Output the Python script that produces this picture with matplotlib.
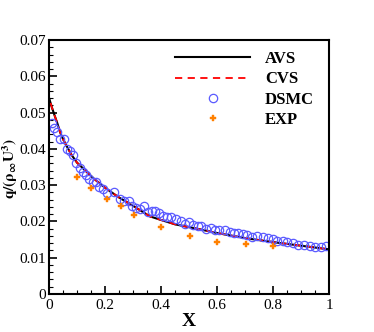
import matplotlib.pyplot as plt
from matplotlib.ticker import MultipleLocator, FuncFormatter

# AVS / CVS surface curves
x_line = [0, 0.01, 0.02, 0.03, 0.04, 0.05, 0.06, 0.08, 0.10, 0.13, 0.16, 0.20, 0.22,
          0.25, 0.30, 0.36, 0.40, 0.45, 0.54, 0.60, 0.70, 0.80, 0.90, 1.0, 1.0]
avs = [0.0541, 0.0515, 0.0492, 0.0470, 0.0445, 0.0427, 0.0412, 0.0384, 0.0362, 0.0340,
       0.0318, 0.0293, 0.0282, 0.0266, 0.0243, 0.0214, 0.0204, 0.0192, 0.0178, 0.0168,
       0.0154, 0.0143, 0.0133, 0.0123, 0.0]
x_cvs = [0] + x_line
cvs = [0.070] + avs

# DSMC
x_dsmc = [0.0095, 0.019, 0.029, 0.040, 0.055, 0.063, 0.075, 0.086, 0.095, 0.110, 0.121,
          0.132, 0.143, 0.156, 0.168, 0.179, 0.194, 0.208, 0.231, 0.255, 0.269, 0.286,
          0.295, 0.312, 0.325, 0.338, 0.352, 0.367, 0.379, 0.393, 0.406, 0.420, 0.437,
          0.452, 0.470, 0.487, 0.500, 0.514, 0.531, 0.544, 0.561, 0.577, 0.593, 0.608,
          0.629, 0.645, 0.660, 0.676, 0.693, 0.708, 0.726, 0.743, 0.763, 0.781, 0.799,
          0.815, 0.835, 0.851, 0.870, 0.889, 0.910, 0.930, 0.950, 0.970, 0.990]
q_dsmc = [0.0470, 0.0458, 0.0446, 0.0428, 0.0428, 0.0400, 0.0395, 0.0384, 0.0362, 0.0346,
          0.0335, 0.0327, 0.0316, 0.0310, 0.0308, 0.0296, 0.0290, 0.0277, 0.0280, 0.0262,
          0.0256, 0.0257, 0.0243, 0.0237, 0.0233, 0.0242, 0.0226, 0.0228, 0.0228, 0.0222,
          0.0215, 0.0211, 0.0211, 0.0207, 0.0202, 0.0194, 0.0198, 0.0190, 0.0188, 0.0188,
          0.0180, 0.0181, 0.0177, 0.0176, 0.0175, 0.0170, 0.0169, 0.0167, 0.0165, 0.0162,
          0.0157, 0.0161, 0.0157, 0.0154, 0.0152, 0.0147, 0.0145, 0.0142, 0.0141, 0.0135,
          0.0135, 0.0132, 0.0130, 0.0129, 0.0132]

# experiment
x_exp = [0.100, 0.150, 0.206, 0.256, 0.305, 0.401, 0.504, 0.601, 0.705, 0.799]
q_exp = [0.0322, 0.0292, 0.0263, 0.0242, 0.0217, 0.0185, 0.0159, 0.0142, 0.0139, 0.0131]

plt.rcParams['font.family'] = ['Liberation Serif', 'DejaVu Serif']
plt.rcParams['mathtext.fontset'] = 'stix'

fig = plt.figure(figsize=(3.74, 3.32), dpi=100)
ax = fig.add_axes([0.131, 0.1145, 0.749, 0.765])

ax.plot(x_line, avs, color='black', lw=1.5, label='AVS')
ax.plot(x_cvs, cvs, color='red', lw=1.3, ls=(0, (4, 3)), label='CVS')
ax.plot(x_dsmc, q_dsmc, ls='none', marker='o', ms=6, mfc='none', mec='#5a5aff',
        mew=0.9, label='DSMC')
ax.plot(x_exp, q_exp, ls='none', marker='P', ms=5, color='#ff8000', mew=0.3,
        label='EXP')

ax.set_xlim(0, 1)
ax.set_ylim(0, 0.07)
ax.xaxis.set_major_locator(MultipleLocator(0.2))
ax.xaxis.set_minor_locator(MultipleLocator(0.05))
ax.yaxis.set_major_locator(MultipleLocator(0.01))
ax.yaxis.set_minor_locator(MultipleLocator(0.002))
fmt = FuncFormatter(lambda v, p: ('%.2f' % v).rstrip('0').rstrip('.') if v else '0')
ax.xaxis.set_major_formatter(fmt)
ax.yaxis.set_major_formatter(fmt)
ax.tick_params(which='both', direction='in', top=False, right=False, labelsize=11)
ax.tick_params(which='major', length=6, width=1.2)
ax.tick_params(which='minor', length=3, width=0.8)
ax.tick_params(axis='y', pad=2)
for s in ax.spines.values():
    s.set_linewidth(1.5)

ax.set_xlabel('X', fontsize=14, fontweight='bold', labelpad=1)
# y label placed by hand so it stays inside the figure
fig.text(0.026, 0.494, r'$\mathbf{q/(\rho_\infty U^3)}$', fontsize=11,
         rotation=90, ha='center', va='center')

leg = ax.legend(loc='upper right', bbox_to_anchor=(1.0, 1.015), frameon=False,
                handlelength=4.5, labelspacing=0.25, handletextpad=0.9,
                prop={'weight': 'bold', 'size': 12})

fig.savefig('out.png', dpi=100)
